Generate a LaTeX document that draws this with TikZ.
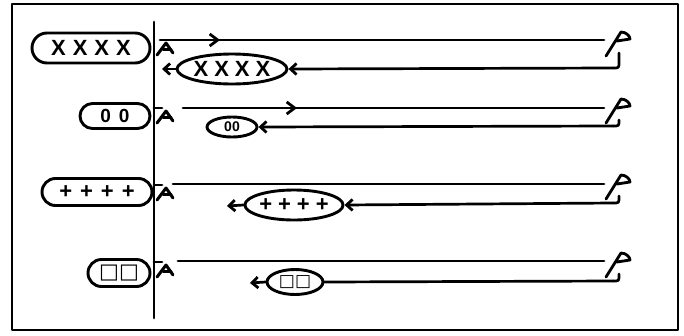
\documentclass[tikz,border=0pt]{standalone}
\usepackage{fontspec}
\setmainfont{Liberation Sans}
\newfontfamily\dejavu{DejaVu Sans}
\usetikzlibrary{arrows.meta,decorations.markings,shapes.geometric,shapes.misc}
\begin{document}
\begin{tikzpicture}[x=1pt,y=-1pt,line width=2.7pt,line cap=round,line join=round,
  pill/.style={draw,rounded rectangle,inner sep=0pt,line width=2.9pt},
  echo/.style={draw,ellipse,inner sep=0pt,line width=2.9pt},
  tip/.style={-{Straight Barb[length=6pt,width=11pt,line width=2.8pt]}},
  midtip/.style={postaction={decorate},decoration={markings,mark=at position #1 with {\arrow{Straight Barb[length=8pt,width=12pt,line width=2.8pt]}}}},
  bigx/.style={font=\fontsize{22}{22}\selectfont\bfseries},
  smallo/.style={font=\fontsize{14}{14}\selectfont\bfseries},
  plus/.style={font=\fontsize{22}{22}\selectfont\bfseries},
  sq/.style={font=\dejavu\bfseries\fontsize{#1}{#1}\selectfont}]
\useasboundingbox (0,0) rectangle (684,335);
\fill[white] (0,0) rectangle (684,335);
% frame
\draw[line width=2.4pt] (12,4) rectangle (678,330);
% vertical line
\coordinate (vt) at (154,22);
\coordinate (vb) at (154,318);
\draw (vt) -- (vb);

% ---------- left-side "A" symbols and ticks
\newcommand\leftA[2]{%
  \draw[line width=3pt] (157,#2+15) -- (166,#2+3) -- (173,#2+13);
  \draw[line width=3pt] (163,#2+9) -- (171,#2+9);
  \ifnum#1=1 \draw (154,#2) -- (162,#2);\fi}
\leftA{0}{40}
\leftA{1}{108}
\leftA{1}{185}
\leftA{1}{262}

% ---------- right-side reflector symbols and hooks
\newcommand\rightR[2]{%
  \draw[line width=2.8pt] (606,#1+16) -- (621,#1-8) .. controls (626,#1-8) and (630,#1-4) .. (630,#1-1) -- (617,#1+1);
  \draw (619,#1+13) -- (619,#2-6) .. controls (619,#2) .. (613,#2);}
\rightR{40}{68}
\rightR{107}{126}
\rightR{183}{203}
\rightR{261}{281}

% ---------- row 1
\node[pill,minimum width=118pt,minimum height=30pt,bigx] (L1) at (91,48) {X\hspace{7pt}X\hspace{7pt}X\hspace{7pt}X};
\node[echo,minimum width=110pt,minimum height=30pt,bigx] (R1) at (232,69) {X\hspace{6pt}X\hspace{6pt}X\hspace{6pt}X};
\coordinate (s1) at (160,40);
\coordinate (e1) at (604,40);
\coordinate (h1) at (613,68);
\draw[midtip=60pt] (s1) -- (e1);
\draw[tip] (h1) -- (R1.east);
\coordinate (a1) at (162,69);
\draw[tip] (R1.west) -- (a1);

% ---------- row 2
\node[pill,minimum width=70pt,minimum height=25pt,font=\fontsize{19}{19}\selectfont\bfseries] (L2) at (115,116) {0\hspace{8pt}0};
\node[echo,minimum width=50pt,minimum height=20pt,smallo] (R2) at (232,127) {00};
\coordinate (s2) at (183,108);
\coordinate (e2) at (604,108);
\coordinate (h2) at (613,126);
\draw[midtip=114pt] (s2) -- (e2);
\draw[tip] (h2) -- (R2.east);

% ---------- row 3
\node[pill,minimum width=110pt,minimum height=27pt,plus] (L3) at (97,192) {+\hspace{8pt}+\hspace{8pt}+\hspace{8pt}+};
\node[echo,minimum width=98pt,minimum height=30pt,plus] (R3) at (294,205) {+\hspace{6pt}+\hspace{6pt}+\hspace{6pt}+};
\coordinate (s3) at (173,184);
\coordinate (e3) at (604,184);
\coordinate (h3) at (613,203);
\draw (s3) -- (e3);
\draw[tip] (h3) -- (R3.east);
\coordinate (a3) at (227,206);
\draw[tip] (R3.west) -- (a3);

% ---------- row 4
\node[pill,minimum width=62pt,minimum height=27pt,sq=21] (L4) at (119,273) {□□};
\node[echo,minimum width=56pt,minimum height=25pt,sq=17] (R4) at (295,282) {□□};
\coordinate (s4) at (178,261);
\coordinate (e4) at (604,261);
\coordinate (h4) at (613,281);
\draw (s4) -- (e4);
\draw (h4) -- (R4.east);
\coordinate (a4) at (250,283);
\draw[tip] (R4.west) -- (a4);
\end{tikzpicture}
\end{document}
